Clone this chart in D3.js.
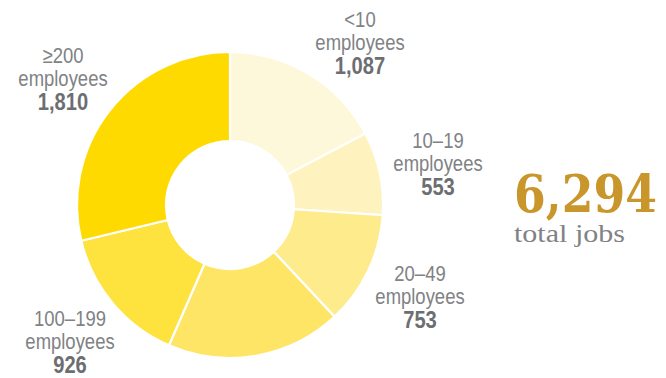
<!DOCTYPE html>
<head>
  <meta charset="utf-8">
  <script src="https://d3js.org/d3.v7.min.js"></script>
  <style>
    body { margin:0; background:#fff; }
    svg { display:block; }
    .lbl { font-family:"Liberation Sans Narrow","Arial Narrow","Liberation Sans",sans-serif; fill:#808285; font-size:22px; }
    .num { font-weight:bold; fill:#6d6e71; font-size:24px; }
  </style>
</head>
<body>
<div id="chart"></div>
<script>

// job counts by firm size
var categories = ["<10", "10–19", "20–49", "50–99", "100–199", "≥200"];
var values     = [1087, 553, 753, 1165, 926, 1810];
var colors     = ["#fef8da", "#fef2be", "#feeb8c", "#fee565", "#fee23e", "#feda00"];
var totalJobs  = 6294;

var width = 666, height = 378;
var cx = 230, cy = 205, outerR = 153, innerR = 64;

var svg = d3.select("#chart").append("svg")
    .attr("width", width)
    .attr("height", height);

var pie = d3.pie().sort(null).value(function(d) { return d; });
var arc = d3.arc().innerRadius(innerR).outerRadius(outerR);

var g = svg.append("g").attr("transform", "translate(" + cx + "," + cy + ")");

g.selectAll("path")
    .data(pie(values))
  .enter().append("path")
    .attr("d", arc)
    .attr("fill", function(d, i) { return colors[i]; })
    .style("stroke", "white")
    .style("stroke-width", 2.2);

// label anchors (centre x, baseline of first line), the 50–99 one isn't shown
var labelAt = {
  "<10":     [360, 27],
  "10–19":   [438, 148],
  "20–49":   [420, 281],
  "100–199": [70, 326],
  "≥200":    [63, 63]
};

var fmt = d3.format(",");
categories.forEach(function(c, i) {
  var p = labelAt[c];
  if (!p) return;
  // squeeze horizontally, the original uses a condensed face
  var t = svg.append("text")
      .attr("class", "lbl")
      .attr("text-anchor", "middle")
      .attr("transform", "translate(" + p[0] + "," + p[1] + ") scale(0.84,1)");
  t.append("tspan").attr("x", 0).attr("y", 0).text(c);
  t.append("tspan").attr("x", 0).attr("dy", 23).text("employees");
  t.append("tspan").attr("x", 0).attr("dy", 24).attr("class", "num").text(fmt(values[i]));
});

// total
svg.append("text")
    .attr("x", 514).attr("y", 212)
    .attr("textLength", 143)
    .attr("lengthAdjust", "spacingAndGlyphs")
    .style("font-family", "'DejaVu Serif', serif")
    .style("font-weight", "bold")
    .style("font-size", "53px")
    .style("fill", "#c9962b")
    .text(fmt(totalJobs));

svg.append("text")
    .attr("x", 514).attr("y", 242)
    .attr("textLength", 111)
    .attr("lengthAdjust", "spacingAndGlyphs")
    .style("font-family", "'Liberation Serif', serif")
    .style("font-size", "25px")
    .style("fill", "#808285")
    .text("total jobs");

</script>
</body>
